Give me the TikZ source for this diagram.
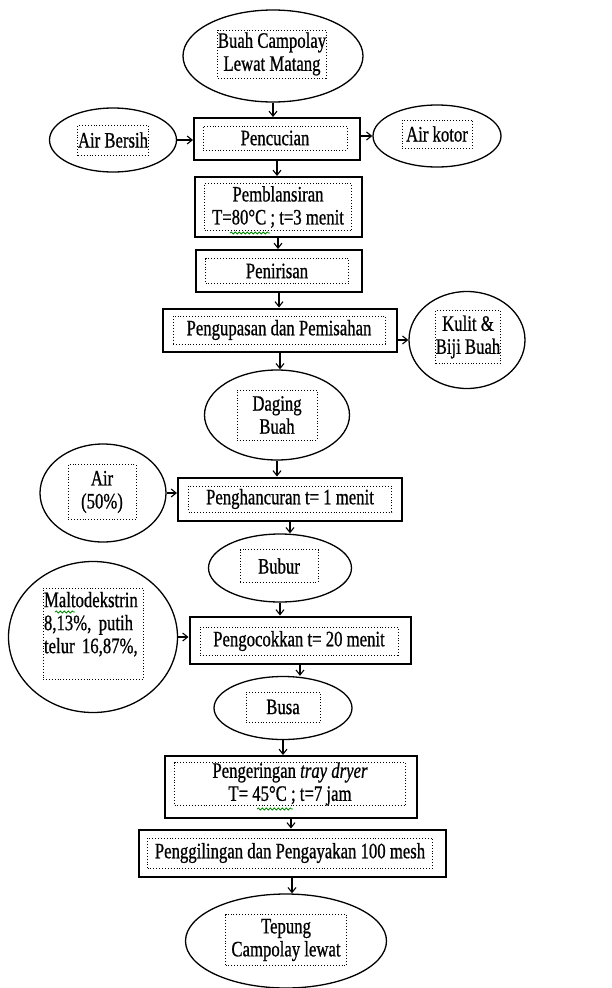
\documentclass[tikz,border=0pt]{standalone}
\usepackage{fontspec}
\setmainfont{Liberation Serif}[FakeStretch=0.76,FakeBold=0.7]
\usetikzlibrary{shapes.geometric,arrows.meta,decorations.pathmorphing}
\begin{document}
\begin{tikzpicture}[x=1pt,y=-1pt,
  proc/.style={draw, line width=2pt, rectangle, inner sep=0pt},
  term/.style={draw, line width=1.3pt, ellipse, inner sep=0pt},
  txt/.style={draw, dotted, line width=0.9pt, inner sep=0pt, align=center,
    font=\fontsize{22}{23}\selectfont},
  arr/.style={line width=1.1pt, -{Straight Barb[length=5pt,width=8pt,line width=1.1pt]}},
  spell/.style={green!55!black, line width=0.8pt, decorate,
    decoration={snake, amplitude=1pt, segment length=4pt}}]
\useasboundingbox[fill=white] (0,0) rectangle (611,988);

% shapes
\node[term, minimum width=180pt, minimum height=92pt] (s1) at (273,56) {};
\node[txt, minimum width=105pt, minimum height=48pt] (t1) at (272,54) {Buah Campolay\\Lewat Matang};

\node[proc, minimum width=166pt, minimum height=42pt] (s2) at (277,139) {};
\node[txt, minimum width=144pt, minimum height=24pt] (t2) at (275,138) {Pencucian};

\node[term, minimum width=127pt, minimum height=64pt] (s3) at (113,140) {};
\node[txt, minimum width=68pt, minimum height=30pt] (t3) at (113,140) {Air Bersih};

\node[term, minimum width=128pt, minimum height=62pt] (s4) at (437,136) {};
\node[txt, minimum width=70pt, minimum height=28pt] (t4) at (437,134) {Air kotor};

\node[proc, minimum width=167pt, minimum height=60pt] (s5) at (278,207) {};
\node[txt, minimum width=147pt, minimum height=47pt] (t5) at (278,207) {Pemblansiran\\T=80°C ; t=3 menit};

\node[proc, minimum width=166pt, minimum height=42pt] (s6) at (279,271) {};
\node[txt, minimum width=143pt, minimum height=25pt] (t6) at (277,271) {Penirisan};

\node[proc, minimum width=234pt, minimum height=43pt] (s7) at (280,330) {};
\node[txt, minimum width=212pt, minimum height=28pt] (t7) at (279,330) {Pengupasan dan Pemisahan};

\node[term, minimum width=116pt, minimum height=97pt] (s8) at (467,340) {};
\node[txt, minimum width=62pt, minimum height=53pt] (t8) at (468,337) {Kulit \&\\Biji Buah};

\node[term, minimum width=145pt, minimum height=90pt] (s9) at (277,415) {};
\node[txt, minimum width=80pt, minimum height=50pt] (t9) at (277,415) {Daging\\Buah};

\node[proc, minimum width=224pt, minimum height=43pt] (s10) at (290,499) {};
\node[txt, minimum width=203pt, minimum height=26pt] (t10) at (290,499) {Penghancuran t= 1 menit};

\node[term, minimum width=126pt, minimum height=98pt] (s11) at (103,493) {};
\node[txt, minimum width=68pt, minimum height=55pt] (t11) at (102,492) {Air\\(50\%)};

\node[term, minimum width=143pt, minimum height=68pt] (s12) at (280,568) {};
\node[txt, minimum width=78pt, minimum height=33pt] (t12) at (279,566) {Bubur};

\node[proc, minimum width=221pt, minimum height=47pt] (s13) at (300,640) {};
\node[txt, minimum width=198pt, minimum height=28pt] (t13) at (299,641) {Pengocokkan t= 20 menit};

\node[term, minimum width=169pt, minimum height=151pt] (s14) at (93,637) {};
\node[txt, minimum width=100pt, minimum height=91pt, text width=98pt, align=left] (t14) at (93,634) {Maltodekstrin\\8,13\%, putih\\telur 16,87\%,\\\mbox{}};

\node[term, minimum width=138pt, minimum height=63pt] (s15) at (283,708) {};
\node[txt, minimum width=74pt, minimum height=30pt] (t15) at (283,707) {Busa};

\node[proc, minimum width=252pt, minimum height=62pt] (s16) at (291,787) {};
\node[txt, minimum width=231pt, minimum height=43pt] (t16) at (290,784) {Pengeringan \textit{tray dryer}\\T= 45°C ; t=7 jam};

\node[proc, minimum width=307pt, minimum height=47pt] (s17) at (292,853) {};
\node[txt, minimum width=285pt, minimum height=30pt] (t17) at (290,853) {Penggilingan dan Pengayakan 100 mesh};

\node[term, minimum width=201pt, minimum height=94pt] (s18) at (286,941) {};
\node[txt, minimum width=121pt, minimum height=51pt] (t18) at (286,940) {Tepung\\Campolay lewat};

% spell-check marks
\coordinate (g1a) at (230,233); \coordinate (g1b) at (270,233);
\draw[spell] (g1a) -- (g1b);
\coordinate (g2a) at (55,612); \coordinate (g2b) at (75,612);
\draw[spell] (g2a) -- (g2b);
\coordinate (g3a) at (257,809); \coordinate (g3b) at (293,809);
\draw[spell] (g3a) -- (g3b);

% main flow
\draw[arr] (s1.south) -- (s1.south |- s2.north);
\draw[arr] (s2.south) -- (s2.south |- s5.north);
\draw[arr] (s5.south) -- (s5.south |- s6.north);
\draw[arr] (s6.south) -- (s6.south |- s7.north);
\draw[arr] (s7.south) -- (s7.south |- s9.north);
\draw[arr] (s9.south) -- (s9.south |- s10.north);
\draw[arr] (s10.south) -- (s10.south |- s12.north);
\draw[arr] (s12.south) -- (s12.south |- s13.north);
\draw[arr] (s13.south) -- (s13.south |- s15.north);
\draw[arr] (s15.south) -- (s15.south |- s16.north);
\draw[arr] (s16.south) -- (s16.south |- s17.north);
\draw[arr] (s17.south) -- (s17.south |- s18.north);

% side flows
\draw[arr] (s3.east) -- (s3.east -| s2.west);
\draw[arr] (s2.east |- s4.west) -- (s4.west);
\draw[arr] (s7.east |- s8.west) -- (s8.west);
\draw[arr] (s11.east) -- (s11.east -| s10.west);
\draw[arr] (s14.east) -- (s14.east -| s13.west);
\end{tikzpicture}
\end{document}
